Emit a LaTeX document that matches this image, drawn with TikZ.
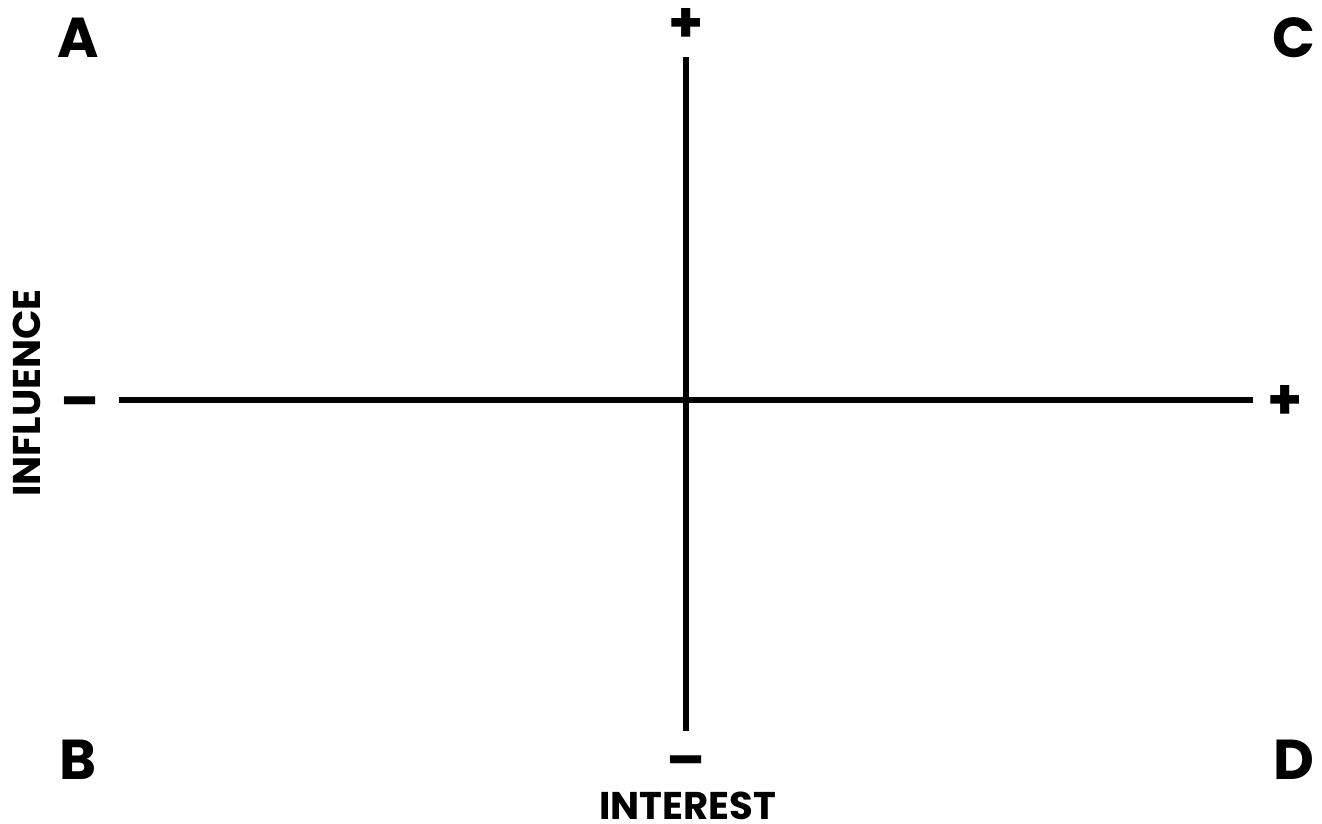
\documentclass[tikz,border=0pt]{standalone}
\usepackage{fontspec}
\setmainfont{Poppins}
\usetikzlibrary{positioning}

\begin{document}
\begin{tikzpicture}[x=0.02cm, y=-0.02cm,
    corner/.style={font=\fontsize{32}{32}\selectfont\bfseries, inner sep=0pt},
    sign/.style={font=\fontsize{32}{32}\selectfont\bfseries, inner sep=0pt},
    axislabel/.style={font=\fontsize{22}{22}\selectfont\bfseries, inner sep=0pt},
    axis/.style={line width=3.1pt}]
    \useasboundingbox (0,0) rectangle (1322,823);

    % axis end points
    \coordinate (top) at (686,57);
    \coordinate (bottom) at (686,731);
    \coordinate (left) at (119,400);
    \coordinate (right) at (1253,400);

    % quadrant letters
    \node [corner] (qa) at (78,38) {A};
    \node [corner] (qc) at (1294,38) {C};
    \node [corner] (qb) at (78,760) {B};
    \node [corner] (qd) at (1294,760) {D};

    % signs
    \node [sign] (ptop) at (686,25) {+};
    \node [sign] (pright) at (1285,402) {+};
    \node [sign] (mleft) at (80,409) {–};
    \node [sign] (mbottom) at (686,768) {–};

    % axis names
    \node [axislabel, text depth=0pt] (interest) at (688,806) {INTEREST};
    \node [axislabel, rotate=90] (influence) at (27,393) {INFLUENCE};

    \draw [axis] (top) -- (bottom);
    \draw [axis] (left) -- (right);
\end{tikzpicture}
\end{document}
